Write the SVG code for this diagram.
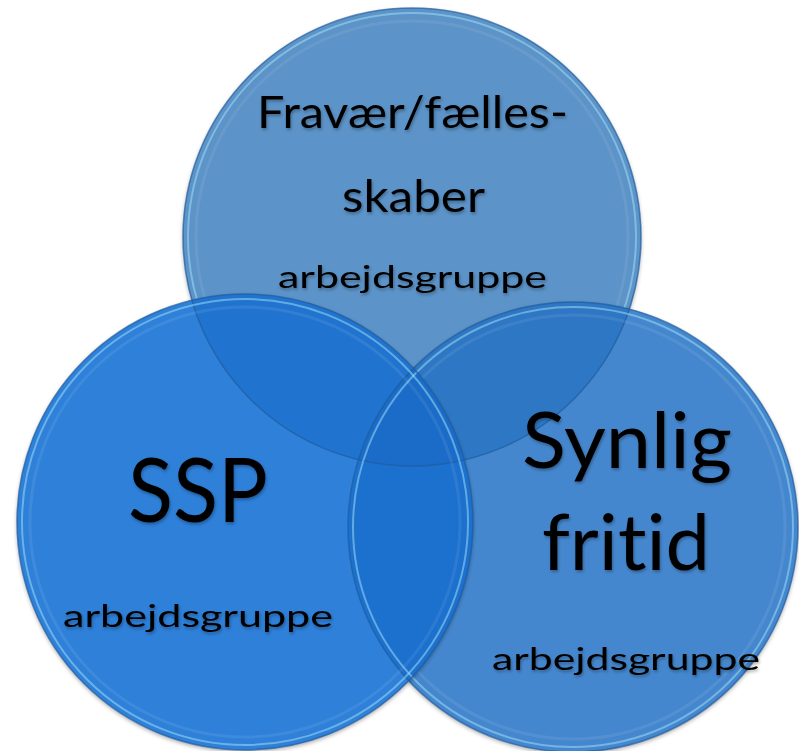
<svg xmlns="http://www.w3.org/2000/svg" width="799" height="751" viewBox="0 0 799 751">
<defs>
<style>
.txt{font-family:Lato,"Open Sans","Liberation Sans",sans-serif;fill:#000;filter:url(#ts);font-variant-ligatures:none;font-weight:400}
.big{font-size:44px}
.huge{font-size:89px}
.large{font-size:77px}
.small{font-size:31px}
.edge{fill:none;stroke:#1F5C9E;stroke-width:1.5;stroke-opacity:.7}
.hi{fill:none;stroke:#A6E4F7;stroke-width:2;stroke-opacity:.5}
.inner{fill:none;stroke:#ffffff;stroke-width:3;stroke-opacity:.08}
</style>
<clipPath id="cT"><circle cx="412" cy="237" r="229"/></clipPath>
<clipPath id="cL"><circle cx="245" cy="522" r="228"/></clipPath>
<clipPath id="cR"><circle cx="573" cy="527" r="225"/></clipPath>
<filter id="ts" x="-10%" y="-30%" width="125%" height="170%"><feDropShadow dx="1" dy="2" stdDeviation="1.5" flood-color="#000" flood-opacity="0.3"/></filter>
<filter id="sh" x="-10%" y="-10%" width="120%" height="120%"><feDropShadow dx="0" dy="2" stdDeviation="2" flood-color="#000" flood-opacity="0.35"/></filter>
</defs>
<rect width="799" height="751" fill="#ffffff"/>

<g id="node-top">
<circle cx="412" cy="237" r="229" fill="#5C93C8" filter="url(#sh)"/>
<circle class="inner" cx="412" cy="237" r="216"/>
<circle class="hi" cx="412" cy="237" r="224"/>
<circle class="edge" cx="412" cy="237" r="229"/>
<text class="txt big" x="257" y="128" textLength="311" lengthAdjust="spacingAndGlyphs">Fravær/fælles-</text>
<text class="txt big" x="342" y="212" textLength="143" lengthAdjust="spacingAndGlyphs">skaber</text>
<text class="txt small" x="278" y="288" textLength="269" lengthAdjust="spacingAndGlyphs">arbejdsgruppe</text>
</g>

<g id="node-right">
<circle cx="573" cy="527" r="225" fill="#4487CE" filter="url(#sh)"/>
<circle cx="412" cy="237" r="229" fill="#2E77C4" clip-path="url(#cR)"/>
<circle class="edge" cx="412" cy="237" r="229" clip-path="url(#cR)" stroke-opacity=".4"/>
<circle class="inner" cx="573" cy="527" r="212"/>
<circle class="hi" cx="573" cy="527" r="220"/>
<circle class="edge" cx="573" cy="527" r="225"/>
<text class="txt large" x="522" y="468" textLength="210" lengthAdjust="spacingAndGlyphs">Synlig</text>
<text class="txt large" x="542" y="570" textLength="168" lengthAdjust="spacingAndGlyphs">fritid</text>
<text class="txt small" x="492" y="670" textLength="268" lengthAdjust="spacingAndGlyphs">arbejdsgruppe</text>
</g>

<g id="node-left">
<circle cx="245" cy="522" r="228" fill="#2F80D9" filter="url(#sh)"/>
<circle cx="412" cy="237" r="229" fill="#2074CF" clip-path="url(#cL)"/>
<circle cx="573" cy="527" r="225" fill="#1C70CE" clip-path="url(#cL)"/>
<g clip-path="url(#cT)"><circle cx="573" cy="527" r="225" fill="#1B6CC8" clip-path="url(#cL)"/></g>
<circle class="edge" cx="412" cy="237" r="229" clip-path="url(#cL)" stroke-opacity=".35"/>
<circle class="edge" cx="573" cy="527" r="225" clip-path="url(#cL)" stroke-opacity=".35"/>
<circle class="hi" cx="573" cy="527" r="220" clip-path="url(#cL)" stroke-opacity=".2"/>
<circle class="inner" cx="245" cy="522" r="215"/>
<circle class="hi" cx="245" cy="522" r="223"/>
<circle class="edge" cx="245" cy="522" r="228"/>
<text class="txt huge" x="128" y="522" textLength="140" lengthAdjust="spacingAndGlyphs">SSP</text>
<text class="txt small" x="63" y="627" textLength="270" lengthAdjust="spacingAndGlyphs">arbejdsgruppe</text>
</g>
</svg>
